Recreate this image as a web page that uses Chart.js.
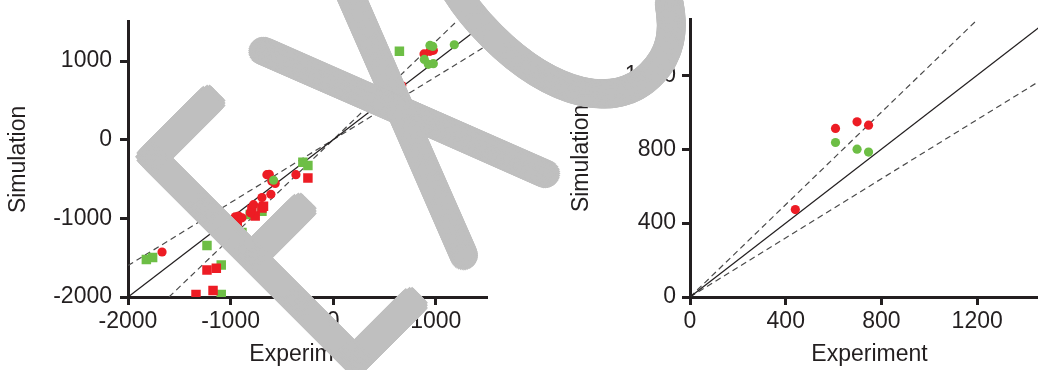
<!DOCTYPE html>
<html>
<head>
<meta charset="utf-8">
<script src="https://cdn.jsdelivr.net/npm/chart.js@4.4.1/dist/chart.umd.min.js"></script>
<style>
  html, body { margin: 0; padding: 0; background: #fff; overflow: hidden; width: 1038px; height: 370px; }
  #wrap { position: relative; width: 1038px; height: 370px; overflow: hidden; }
  #left { position: absolute; left: 0; top: 0; }
  #right { position: absolute; left: 520px; top: 0; }
  #mark { position: absolute; left: 0; top: 0; pointer-events: none; }
</style>
</head>
<body>
<div id="wrap">
  <canvas id="left" width="520" height="370"></canvas>
  <canvas id="right" width="540" height="370"></canvas>
  <canvas id="mark" width="1038" height="370"></canvas>
</div>
<script>
// ---- data ----
const leftXTicks = [-2000, -1000, 0, 1000];
const leftYTicks = [-2000, -1000, 0, 1000];
const rightXTicks = [0, 400, 800, 1200];
const rightYTicks = [0, 400, 800, 1200];

// reference lines y = k * x (parity and +/-20 % bounds)
const refSlopes = [1, 1.25, 0.8];

const leftRedCircles = [
  [886, 1092], [944, 1125], [977, 1137], [669, 689], [-1668, -1428],
  [-954, -980], [-922, -971], [-889, -993], [-776, -826], [-808, -930],
  [-694, -735], [-607, -693], [-646, -444], [-623, -440], [-597, -527],
  [-565, -556], [-363, -444]
];
const leftRedSquares = [
  [-1230, -1656], [-1139, -1635], [-1337, -1968], [-1171, -1918],
  [-954, -1096], [-935, -1071], [-792, -888], [-760, -971],
  [-694, -868], [-679, -847], [-246, -486]
];
const leftGreenCircles = [
  [944, 1199], [971, 1187], [889, 1021], [928, 959], [977, 968],
  [1181, 1208], [-581, -515]
];
const leftGreenSquares = [
  [646, 1125], [-1821, -1523], [-1760, -1498], [-1230, -1345],
  [-1091, -1594], [-1091, -1968], [-1165, -888], [-889, -1179],
  [-808, -951], [-694, -909], [-295, -286], [-246, -328]
];

const rightRedCircles = [[440, 473], [608, 912], [698, 948], [746, 930]];
const rightGreenCircles = [[608, 836], [698, 800], [746, 784]];

// ---- styling ----
const RED = '#ed1c24';
const GREEN = '#6dbe45';
const INK = '#231f20';
const FONT = '"Liberation Sans", Arial, Helvetica, sans-serif';

Chart.defaults.font.family = FONT;
Chart.defaults.color = INK;

const toPoints = arr => arr.map(([x, y]) => ({ x, y }));

function refLineSets(xMin, xMax, yMin, yMax) {
  return refSlopes.map((k, i) => {
    const x0 = Math.max(xMin, yMin / k);
    const x1 = Math.min(xMax, yMax / k);
    return {
      data: [{ x: x0, y: k * x0 }, { x: x1, y: k * x1 }],
      showLine: true,
      pointRadius: 0,
      borderColor: i === 0 ? INK : '#4a4a4a',
      borderWidth: i === 0 ? 1.3 : 1.2,
      borderDash: i === 0 ? [] : [6, 4],
      order: 10
    };
  });
}

function pointSet(arr, color, style, radius, order) {
  return {
    data: toPoints(arr),
    showLine: false,
    pointStyle: style,
    pointRadius: radius,
    pointHoverRadius: radius,
    pointBackgroundColor: color,
    pointBorderWidth: 0,
    backgroundColor: color,
    borderWidth: 0,
    order
  };
}

function axis(opts) {
  return {
    type: 'linear',
    position: opts.position,
    min: opts.min,
    max: opts.max,
    afterBuildTicks: s => { s.ticks = opts.ticks.map(v => ({ value: v })); },
    afterFit: s => {
      if (opts.position === 'left') s.width = opts.size; else s.height = opts.size;
    },
    border: { display: true, width: 3, color: INK },
    grid: {
      display: true, drawOnChartArea: false, drawTicks: true,
      tickLength: 8, tickWidth: 3, tickColor: INK
    },
    ticks: {
      padding: opts.tickPad,
      color: INK,
      font: { size: 23 },
      maxRotation: 0,
      autoSkip: false,
      callback: v => String(v)
    },
    title: {
      display: true,
      text: opts.title,
      color: INK,
      font: { size: 23 },
      padding: opts.titlePad
    }
  };
}

function makeChart(id, cfg) {
  return new Chart(document.getElementById(id), {
    type: 'scatter',
    data: { datasets: cfg.datasets },
    options: {
      responsive: false,
      animation: false,
      devicePixelRatio: 1,
      events: [],
      layout: { padding: { left: 0, right: cfg.padRight, top: 16, bottom: 0 } },
      plugins: { legend: { display: false }, tooltip: { enabled: false } },
      scales: {
        x: axis({ position: 'bottom', min: cfg.xMin, max: cfg.xMax, ticks: cfg.xTicks,
                  size: 73, tickPad: 3, title: 'Experiment', titlePad: { top: 0, bottom: 1.5 } }),
        y: axis({ position: 'left', min: cfg.yMin, max: cfg.yMax, ticks: cfg.yTicks,
                  size: cfg.yAxisWidth, tickPad: cfg.yTickPad, title: 'Simulation',
                  titlePad: { top: cfg.yTitlePad, bottom: 0 } })
      }
    }
  });
}

makeChart('left', {
  xMin: -2000, xMax: 1500, yMin: -2000, yMax: 1500,
  xTicks: leftXTicks, yTicks: leftYTicks,
  yAxisWidth: 128, padRight: 33, yTickPad: 8, yTitlePad: 5,
  datasets: [
    pointSet(leftGreenCircles, GREEN, 'circle', 4.6, 1),
    pointSet(leftRedCircles, RED, 'circle', 4.6, 2),
    pointSet(leftRedSquares, RED, 'rect', 6.7, 3),
    pointSet(leftGreenSquares, GREEN, 'rect', 6.7, 4),
    ...refLineSets(-2000, 1500, -2000, 1500)
  ]
});

makeChart('right', {
  xMin: 0, xMax: 1500, yMin: 0, yMax: 1500,
  xTicks: rightXTicks, yTicks: rightYTicks,
  yAxisWidth: 170, padRight: 11, yTickPad: 6, yTitlePad: 48,
  datasets: [
    pointSet(rightRedCircles, RED, 'circle', 4.6, 1),
    pointSet(rightGreenCircles, GREEN, 'circle', 4.6, 2),
    ...refLineSets(0, 1500, 0, 1500)
  ]
});

// ---- grey diagonal overlay lettering ----
const markLetters = ['E', 'X', 'C'];
// letter boxes along the rotated baseline frame: [a0, a1, b0, b1] (stroke centre lines)
const markBoxes = [[12, 95, 12, 304], [160, 284, 15.5, 306], [337, 494, 22, 314]];
// pen shape per letter: 'square' gives flat stroke ends, 'round' gives rounded ones
const markPens = ['square', 'round', 'round'];
const markOrigin = [131.7, 156.7];
const markAngle = -Math.PI / 4;
const markHalfStroke = 15.2;
const markColor = '#bfbfbf';

(function drawMark() {
  const ctx = document.getElementById('mark').getContext('2d');
  // thinnest available face gives a centre-line skeleton for the letters
  const faces = ['100 %spx Lato', '100 %spx Roboto', '100 %spx Inter',
                 '200 %spx "DejaVu Sans"', '300 %spx "Open Sans"', '100 %spx "Noto Sans"'];
  let face = faces[0], stem = Infinity;
  for (const f of faces) {
    ctx.font = f.replace('%s', '100');
    const m = ctx.measureText('I');
    const w = m.actualBoundingBoxLeft + m.actualBoundingBoxRight;
    if (w > 0 && w < stem) { stem = w; face = f; }
  }
  const size = 400;
  ctx.font = face.replace('%s', String(size));
  ctx.textAlign = 'left';
  ctx.textBaseline = 'alphabetic';
  ctx.fillStyle = markColor;

  const glyphs = markLetters.map((ch, i) => {
    const m = ctx.measureText(ch);
    const gl = -m.actualBoundingBoxLeft, gr = m.actualBoundingBoxRight;
    const gt = -m.actualBoundingBoxAscent, gb = m.actualBoundingBoxDescent;
    const [a0, a1, b0, b1] = markBoxes[i];
    const sx = (a1 - a0) / (gr - gl);
    const sy = (b1 - b0) / (gb - gt);
    return { ch, gl, gt, sx, sy, a0, b0, pen: markPens[i] };
  });

  const skeleton = stem / 100 * size * 0.6;
  const r = Math.max(4, markHalfStroke - skeleton / 2);
  const ux = Math.cos(markAngle), uy = Math.sin(markAngle);

  // round pen: filled disc sampled on rings
  const roundPen = [[0, 0]];
  const radii = [];
  for (let rad = 2; rad < r; rad += 2) radii.push(rad);
  radii.push(r);
  for (const rad of radii) {
    const n = Math.ceil(2 * Math.PI * rad / 1.8);
    for (let k = 0; k < n; k++) {
      const t = 2 * Math.PI * k / n;
      roundPen.push([rad * Math.cos(t), rad * Math.sin(t)]);
    }
  }
  // square pen with slightly softened corners, aligned to the letter frame
  const squarePen = [];
  const corner = 5, step = 1.8;
  for (let p = -r; p <= r + 0.01; p += step) {
    for (let q = -r; q <= r + 0.01; q += step) {
      const cp = Math.max(Math.abs(p) - (r - corner), 0);
      const cq = Math.max(Math.abs(q) - (r - corner), 0);
      if (cp * cp + cq * cq > corner * corner) continue;
      squarePen.push([p * ux - q * uy, p * uy + q * ux]);
    }
  }

  for (const g of glyphs) {
    const pen = g.pen === 'square' ? squarePen : roundPen;
    for (const [dx, dy] of pen) {
      ctx.setTransform(1, 0, 0, 1, markOrigin[0] + dx, markOrigin[1] + dy);
      ctx.rotate(markAngle);
      ctx.translate(g.a0 - g.gl * g.sx, g.b0 - g.gt * g.sy);
      ctx.scale(g.sx, g.sy);
      ctx.fillText(g.ch, 0, 0);
    }
  }
  ctx.setTransform(1, 0, 0, 1, 0, 0);
})();
</script>
</body>
</html>
